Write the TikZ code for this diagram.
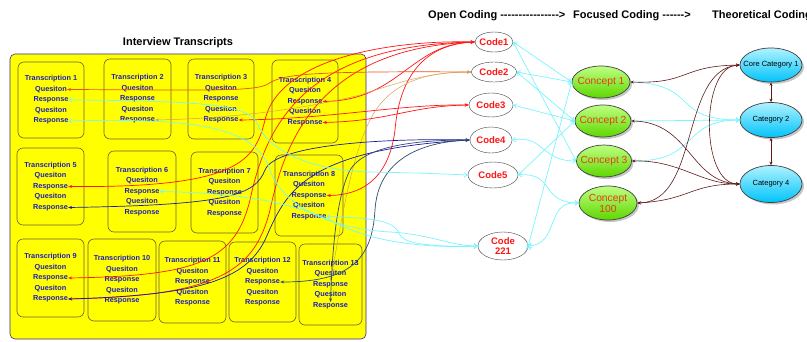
\documentclass[tikz,border=0pt]{standalone}
\usepackage{fontspec}
\setmainfont{Liberation Sans}
\usetikzlibrary{arrows.meta, positioning, shapes.geometric, shadows}
\definecolor{gulbund}{RGB}{255,255,0}
\definecolor{rammeblaa}{RGB}{60,40,140}
\definecolor{boksramme}{RGB}{110,95,60}
\definecolor{tekstblaa}{RGB}{30,30,190}
\definecolor{kodrod}{RGB}{255,20,20}
\definecolor{orangerod}{RGB}{235,80,25}
\definecolor{lysbrun}{RGB}{215,160,90}
\definecolor{marine}{RGB}{25,25,165}
\definecolor{skifer}{RGB}{45,75,110}
\definecolor{lyscyan}{RGB}{120,245,255}
\definecolor{morkbrun}{RGB}{95,25,25}
\definecolor{begrebtop}{RGB}{190,255,130}
\definecolor{begrebbund}{RGB}{95,215,0}
\definecolor{begrebtekst}{RGB}{230,60,25}
\definecolor{kattop}{RGB}{175,242,255}
\definecolor{katbund}{RGB}{0,195,250}
\newcommand{\streger}[1]{\foreach \i in {1,...,#1}{-\kern0pt}}
\newcommand{\transcript}[5]{%
  \node[boks, minimum width=#4, minimum height=#5] (#1) at (#2) {};
  \node[tekst] (#1-t)  at ([yshift=21pt]#1.center)    {Transcription #3};
  \node[tekst] (#1-q1) at ([yshift=10.5pt]#1.center)  {Quesiton};
  \node[tekst] (#1-r1) at (#1.center)                 {Response};
  \node[tekst] (#1-q2) at ([yshift=-10.5pt]#1.center) {Quesiton};
  \node[tekst] (#1-r2) at ([yshift=-21pt]#1.center)   {Response};
}

\begin{document}
\begin{tikzpicture}[
    x=1pt, y=-1pt,
    >={Stealth[length=4pt, width=3pt]},
    overskrift/.style = {inner sep=0pt, font=\fontsize{11}{12}\selectfont\bfseries},
    storboks/.style = {rectangle, rounded corners=5pt, draw=rammeblaa, fill=gulbund, line width=0.6pt},
    boks/.style = {rectangle, rounded corners=6pt, draw=boksramme, fill=gulbund, line width=0.6pt},
    tekst/.style = {inner sep=0pt, text=tekstblaa, font=\fontsize{7.3}{8}\selectfont\bfseries},
    kode/.style = {ellipse, draw=black!75, fill=white, inner sep=0pt, inner xsep=-2pt,
                   text=kodrod, align=center, font=\fontsize{9.5}{10.5}\selectfont\bfseries},
    begreb/.style = {ellipse, draw=black!75, line width=0.7pt, top color=begrebtop, bottom color=begrebbund,
                     drop shadow={shadow xshift=2pt, shadow yshift=-2pt, opacity=0.45},
                     inner sep=0pt, inner xsep=-4pt, text=begrebtekst, align=center,
                     font=\fontsize{10.3}{11}\selectfont},
    kategori/.style = {ellipse, draw=black!75, line width=0.7pt, top color=kattop, bottom color=katbund,
                       drop shadow={shadow xshift=2pt, shadow yshift=-2pt, opacity=0.45},
                       inner sep=0pt, inner xsep=-8pt, font=\fontsize{7.5}{9}\selectfont},
    pil/.style = {line width=0.7pt, <->},
    rodpil/.style = {pil, draw=kodrod},
    orangepil/.style = {pil, draw=orangerod},
    tanpil/.style = {pil, draw=lysbrun, line width=0.5pt},
    marinepil/.style = {pil, draw=marine},
    skiferpil/.style = {pil, draw=skifer},
    cyanpil/.style = {>={Straight Barb[length=3pt, width=4.5pt]}, pil, draw=lyscyan},
    cyanen/.style = {>={Straight Barb[length=3pt, width=4.5pt]}, line width=0.7pt, ->, draw=lyscyan},
    brunpil/.style = {>={Stealth[length=3.5pt, width=3pt]}, line width=0.6pt, <->, draw=morkbrun}
    ]
  \useasboundingbox (0,0) rectangle (807,341);

  % headings
  \node[overskrift, anchor=base west] (open) at (428,18) {Open Coding \streger{16}>};
  \node[overskrift, anchor=base west] (focused) at (573,18) {Focused Coding \streger{6}>};
  \node[overskrift, anchor=base west] (theory) at (712,18) {Theoretical Coding};
  \node[overskrift, anchor=base] (titel) at (178,45) {Interview Transcripts};

  % transcripts
  \node[storboks, minimum width=356pt, minimum height=285pt] (interviews) at (188,196.5) {};
  \transcript{t1}{51,100}{1}{66pt}{76pt}
  \transcript{t2}{137.5,99}{2}{67pt}{80pt}
  \transcript{t3}{221,99}{3}{66pt}{80pt}
  \transcript{t4}{305,101.5}{4}{66pt}{83pt}
  \transcript{t5}{50.5,186.5}{5}{67pt}{77pt}
  \transcript{t6}{142,191.5}{6}{68pt}{81pt}
  \transcript{t7}{224.5,192.5}{7}{67pt}{81pt}
  \transcript{t8}{309,195.5}{8}{68pt}{81pt}
  \transcript{t9}{50.5,278}{9}{67pt}{78pt}
  \transcript{t10}{122,280}{10}{68pt}{82pt}
  \transcript{t11}{192.5,282}{11}{67pt}{82pt}
  \transcript{t12}{262.5,282}{12}{67pt}{80pt}
  \transcript{t13}{330.5,284.5}{13}{63pt}{81pt}

  % codes
  \node[kode, minimum width=38pt, minimum height=20pt] (k1) at (494,42) {Code1};
  \node[kode, minimum width=45pt, minimum height=20pt] (k2) at (494,72) {Code2};
  \node[kode, minimum width=44pt, minimum height=24pt] (k3) at (491,105) {Code3};
  \node[kode, minimum width=42pt, minimum height=26pt] (k4) at (491,140) {Code4};
  \node[kode, minimum width=50pt, minimum height=26pt] (k5) at (493,175) {Code5};
  \node[kode, minimum width=50pt, minimum height=28pt] (k221) at (503,246) {Code\\221};

  % concepts
  \node[begreb, minimum width=58pt, minimum height=32pt] (b1) at (601,82) {Concept 1};
  \node[begreb, minimum width=56pt, minimum height=32pt] (b2) at (603,121) {Concept 2};
  \node[begreb, minimum width=54pt, minimum height=32pt] (b3) at (604,161) {Concept 3};
  \node[begreb, minimum width=58pt, minimum height=34pt] (b100) at (608,203) {Concept\\100};

  % categories
  \node[kategori, minimum width=62pt, minimum height=34pt] (kat1) at (771,65) {Core Category 1};
  \node[kategori, minimum width=62pt, minimum height=35pt] (kat2) at (771,120) {Category 2};
  \node[kategori, minimum width=62pt, minimum height=37pt] (kat4) at (771,184) {Category 4};

  % transcripts to codes
  \draw[rodpil] (t5-r1.east) .. controls (240,188) and (255,160) .. (265,120) .. controls (280,55) and (400,40) .. (k1.west);
  \draw[rodpil] (t9-r1.east) .. controls (200,276) and (235,260) .. (250,200) .. controls (265,130) and (300,45) .. (k1.west);
  \draw[rodpil] (t9-r2.east) .. controls (220,296) and (255,270) .. (270,210) .. controls (285,140) and (320,48) .. (k1.west);
  \draw[rodpil] (t8-r1.east) .. controls (370,195) and (390,170) .. (395,130) .. controls (400,70) and (430,44) .. (k1.west);
  \draw[rodpil] (t4-r1.east) .. controls (400,100) and (410,44) .. (k1.west);
  \draw[rodpil] (t3-r2.east) .. controls (330,119) and (400,104) .. (k3.west);
  \draw[rodpil] (t4-r2.east) .. controls (390,121) and (410,106) .. (k3.west);
  \draw[orangepil] (t1-q1.east) .. controls (200,90) and (255,92) .. (268,84) .. controls (282,74) and (310,71) .. (k2.west);
  \draw[tanpil] (t2-r2.east) .. controls (250,118) and (320,105) .. (360,95) .. controls (400,82) and (430,72) .. (k2.west);
  \draw[tanpil] (t13-r1.north) .. controls (340,230) and (350,160) .. (370,120) .. controls (390,80) and (430,72) .. (k2.west);
  \draw[marinepil] (t5-r2.east) .. controls (230,205) and (255,195) .. (265,170) .. controls (275,145) and (380,138) .. (k4.west);
  \draw[marinepil] (t9-r2.east) .. controls (200,295) and (245,280) .. (265,240) .. controls (285,195) and (300,150) .. (k4.west);
  \draw[skiferpil] (t12-r1.east) .. controls (350,282) and (372,260) .. (375,210) .. controls (378,160) and (420,142) .. (k4.west);
  \draw[skiferpil] (t13-r2.north) .. controls (332,260) and (335,200) .. (350,170) .. controls (365,145) and (420,140) .. (k4.west);
  \draw[cyanpil] (t1-r1.east) .. controls (210,101) and (250,105) .. (258,125) .. controls (266,145) and (300,170) .. (370,172) .. controls (420,173) .. (k5.west);
  \draw[cyanpil] (t1-r2.east) .. controls (190,118) and (255,125) .. (270,170) .. controls (280,200) and (320,228) .. (390,232) .. controls (430,234) and (450,246) .. (k221.west);
  \draw[cyanpil] (t6-r1.east) .. controls (250,193) and (300,205) .. (340,225) .. controls (380,245) and (440,248) .. (k221.west);
  \draw[cyanpil] (t8-r2.east) .. controls (380,218) and (395,222) .. (400,235) .. controls (405,245) and (440,247) .. (k221.west);

  % codes to concepts
  \draw[cyanpil]
  (k1.east) edge (b1.west)
  (k1.east) edge (b3.west)
  (k2.east) edge (b1.west)
  (k2.east) edge (b2.west)
  (k3.east) edge (b2.west)
  (k5.east) edge (b2.west)
  (k221.east) edge (b1.west);
  \draw[cyanpil] (k4.east) .. controls (545,135) and (540,161) .. (b3.west);
  \draw[cyanpil] (k5.east) .. controls (555,172) and (540,203) .. (b100.west);
  \draw[cyanpil] (k221.east) .. controls (560,244) and (545,200) .. (b100.west);

  % concepts to categories
  \draw[cyanen] (b1.east) .. controls (700,84) and (670,120) .. (kat2.west);
  \draw[cyanen] (b2.east) -- (kat2.west);
  \draw[cyanen] (b3.east) .. controls (700,162) and (680,120) .. (kat2.west);
  \draw[brunpil] (b1.east) .. controls (690,84) and (680,66) .. (kat1.west);
  \draw[brunpil] (b2.east) .. controls (690,122) and (690,182) .. (kat4.west);
  \draw[brunpil] (b3.east) .. controls (680,160) and (700,184) .. (kat4.west);
  \draw[brunpil] (b100.east) .. controls (700,202) and (680,70) .. (kat1.west);
  \draw[brunpil] (b100.east) .. controls (690,200) and (690,184) .. (kat4.west);
  \draw[brunpil] (kat1.west) .. controls (700,66) and (700,184) .. (kat4.west);
  \draw[brunpil]
  (kat1) edge (kat2)
  (kat2) edge (kat4);

\end{tikzpicture}
\end{document}
